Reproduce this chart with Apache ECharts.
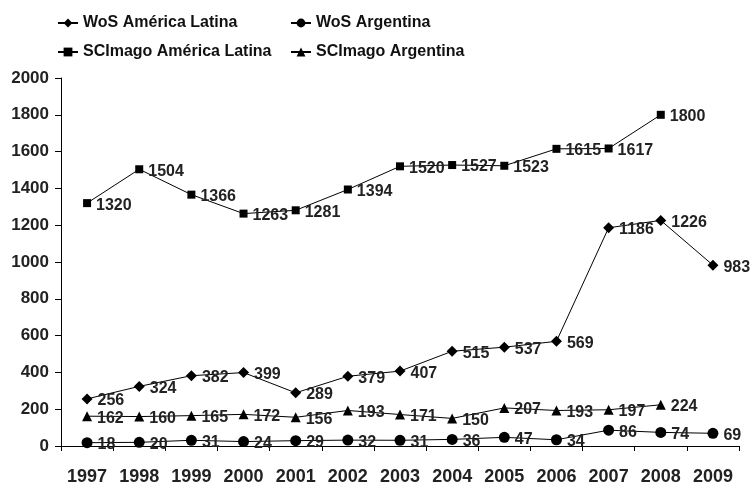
<!DOCTYPE html>
<html><head><meta charset="utf-8">
<script src="https://cdn.jsdelivr.net/npm/echarts@6/dist/echarts.min.js"></script>
<style>html,body{margin:0;padding:0;background:#fff}#c{width:751px;height:483px}</style>
</head><body><div id="c"></div>
<script>
var years = ['1997','1998','1999','2000','2001','2002','2003','2004','2005','2006','2007','2008','2009'];
var wosAL = [256,324,382,399,289,379,407,515,537,569,1186,1226,983];
var wosAR = [18,20,31,24,29,32,31,36,47,34,86,74,69];
var sciAL = [1320,1504,1366,1263,1281,1394,1520,1527,1523,1615,1617,1800,null];
var sciAR = [162,160,165,172,156,193,171,150,207,193,197,224,null];
var yTicks = [0,200,400,600,800,1000,1200,1400,1600,1800,2000];

var font = "'Liberation Sans', Arial, sans-serif";
function mk(name, data, symbol, size) {
  return {
    name: name, type: 'line', data: data, symbol: symbol, symbolSize: size,
    lineStyle: {color: '#000', width: 1}, itemStyle: {color: '#000'},
    connectNulls: false, animation: false,
    label: {show: true, position: 'right', distance: 5, offset: [0, 2],
      color: '#222', fontFamily: font, fontWeight: 'bold', fontSize: 16}
  };
}
function leg(name, left, top) {
  return {data: [name], left: left, top: top, padding: [5, 5, 5, 0],
    itemWidth: 20, itemHeight: 11, itemGap: 4,
    textStyle: {fontFamily: font, fontWeight: 'bold', fontSize: 16, color: '#111'}};
}
var chart = echarts.init(document.getElementById('c'));
chart.setOption({
  backgroundColor: '#fff',
  legend: [leg('WoS América Latina', 57, 10), leg('WoS Argentina', 290, 10),
           leg('SCImago América Latina', 57, 39), leg('SCImago Argentina', 290, 39)],
  grid: {left: 61, right: 12, top: 78, bottom: 37, containLabel: false, outerBoundsMode: 'none'},
  xAxis: {type: 'category', data: years, boundaryGap: true,
    axisLine: {lineStyle: {color: '#000', width: 1}},
    axisTick: {show: true, length: 5, lineStyle: {color: '#000'}},
    axisLabel: {color: '#222', fontFamily: font, fontWeight: 'bold', fontSize: 18, margin: 22}},
  yAxis: {type: 'value', min: 0, max: 2000, interval: 200,
    axisLine: {show: true, lineStyle: {color: '#000', width: 1}},
    axisTick: {show: true, length: 6, lineStyle: {color: '#000'}},
    splitLine: {show: false},
    axisLabel: {color: '#222', fontFamily: font, fontWeight: 'bold', fontSize: 17, margin: 12,
      formatter: function(v){ return yTicks.indexOf(v) >= 0 ? String(v) : ''; }}},
  series: [mk('WoS América Latina', wosAL, 'diamond', 11),
           mk('WoS Argentina', wosAR, 'circle', 11),
           mk('SCImago América Latina', sciAL, 'rect', 8),
           mk('SCImago Argentina', sciAR, 'triangle', 10)]
});
</script></body></html>
